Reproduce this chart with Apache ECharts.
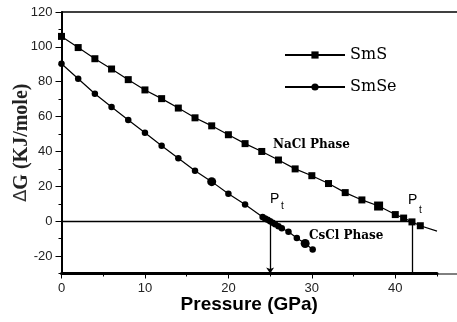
<!DOCTYPE html>
<html>
<head>
<meta charset="utf-8">
<script src="https://cdn.jsdelivr.net/npm/echarts@6/dist/echarts.min.js"></script>
<style>
  html, body { margin: 0; padding: 0; background: #fff; }
  #chart { width: 457px; height: 322px; }
</style>
</head>
<body>
<div id="chart"></div>
<script>
// SmS (squares), pressure in GPa and ΔG in KJ/mole
const smsPressure = [0, 2, 4, 6, 8, 10, 12, 14, 16, 18, 20, 22, 24, 26, 28, 30, 32, 34, 36, 38, 40, 41, 42, 43];
const smsEnergy = [106, 99.6, 93.2, 87.3, 81.2, 75.3, 70.3, 64.9, 59.3, 54.7, 49.6, 44.5, 40.0, 35.1, 30.0, 26.1, 21.6, 16.4, 12.2, 8.7, 3.8, 1.8, -0.4, -2.6];
const smsTail = [45, -5.7]; // line continues past the last marker
const smsBig = [19];

// SmSe (circles)
const smsePressure = [0, 2, 4, 6, 8, 10, 12, 14, 16, 18, 20, 22, 24.1, 24.4, 24.7, 25.0, 25.3, 25.6, 26.0, 26.4, 27.2, 28.2, 29.2, 30.1];
const smseEnergy = [90.3, 81.7, 73.1, 65.5, 58.1, 50.7, 43.3, 36.1, 29.0, 22.7, 15.7, 9.6, 2.4, 1.6, 0.8, 0.0, -0.9, -1.8, -2.9, -4.0, -6.1, -9.6, -12.8, -16.2];
const smseBig = [9, 22];

// transition pressures
const ptSmSe = 25;
const ptSmS = 42;

const yTicks = [-20, 0, 20, 40, 60, 80, 100, 120];
const yMinorTicks = [-30, -10, 10, 30, 50, 70, 90, 110];
const xTicks = [0, 10, 20, 30, 40];
const xMinorTicks = [5, 15, 25, 35, 45];

const toPoints = (xs, ys, big) =>
  xs.map((x, i) => big.includes(i) ? { value: [x, ys[i]], symbolSize: 9 } : [x, ys[i]]);

const chart = echarts.init(document.getElementById('chart'));

const tickFont = { fontFamily: 'Liberation Sans', fontSize: 13, color: '#222' };

chart.setOption({
  animation: false,
  grid: { left: 61.5, right: 20, top: 12, bottom: 48.5, outerBoundsMode: 'none', containLabel: false },
  legend: {
    orient: 'vertical',
    left: 279,
    top: 42,
    itemWidth: 60,
    itemHeight: 9,
    itemGap: 16,
    textStyle: { fontFamily: 'DejaVu Serif', fontSize: 16, color: '#000' },
    data: ['SmS', 'SmSe'],
  },
  xAxis: [
    {
      type: 'value', min: 0, max: 45,
      name: 'Pressure (GPa)', nameLocation: 'middle', nameGap: 22, nameMoveOverlap: false,
      nameTextStyle: { fontFamily: 'Liberation Sans', fontWeight: 'bold', fontSize: 19, color: '#000' },
      axisLine: { show: true, onZero: false, lineStyle: { color: '#000', width: 3 } },
      axisTick: { show: true, customValues: xTicks, length: 5, lineStyle: { color: '#000', width: 1 } },
      axisLabel: { customValues: xTicks, margin: 8, ...tickFont },
      splitLine: { show: false },
    },
    {
      type: 'value', min: 0, max: 45, position: 'bottom',
      axisLine: { show: false, onZero: false },
      axisTick: { show: true, customValues: xMinorTicks, length: 3, lineStyle: { color: '#000', width: 1 } },
      axisLabel: { show: false },
      splitLine: { show: false },
    },
  ],
  yAxis: [
    {
      type: 'value', min: -30, max: 120,
      name: '{d|Δ}G (KJ/mole)', nameLocation: 'middle', nameGap: 30, nameMoveOverlap: false,
      nameTextStyle: {
        fontFamily: 'Liberation Serif', fontWeight: 'bold', fontSize: 20, color: '#222',
        rich: { d: { fontFamily: 'DejaVu Sans', fontWeight: 'normal', fontSize: 18, color: '#333' } },
      },
      axisLine: { show: true, onZero: false, lineStyle: { color: '#000', width: 2 } },
      axisTick: { show: true, customValues: yTicks, length: 6, lineStyle: { color: '#000', width: 1 } },
      axisLabel: { customValues: yTicks, margin: 9, ...tickFont },
      splitLine: { show: false },
    },
    {
      type: 'value', min: -30, max: 120, position: 'left',
      axisLine: { show: false, onZero: false },
      axisTick: { show: true, customValues: yMinorTicks, length: 3, lineStyle: { color: '#000', width: 1 } },
      axisLabel: { show: false },
      splitLine: { show: false },
    },
  ],
  series: [
    {
      name: 'SmS',
      type: 'line',
      symbol: 'rect',
      symbolSize: 7,
      lineStyle: { color: '#000', width: 1.2 },
      itemStyle: { color: '#000' },
      data: [...toPoints(smsPressure, smsEnergy, smsBig), { value: smsTail, symbol: 'none' }],
    },
    {
      name: 'SmSe',
      type: 'line',
      symbol: 'circle',
      symbolSize: 6.5,
      lineStyle: { color: '#000', width: 1.2 },
      itemStyle: { color: '#000' },
      data: toPoints(smsePressure, smseEnergy, smseBig),
      markLine: {
        silent: true,
        symbol: ['none', 'none'],
        label: { show: false },
        lineStyle: { color: '#000', width: 1.3, type: 'solid' },
        emphasis: { disabled: true },
        data: [
          [{ coord: [0, 0] }, { coord: [ptSmS, 0] }],
          [{ coord: [ptSmSe, 0] }, { coord: [ptSmSe, -30], symbol: 'arrow', symbolSize: 6 }],
          [{ coord: [ptSmS, 0] }, { coord: [ptSmS, -30] }],
        ],
      },
    },
  ],
  graphic: [
    // frame lines beyond the plot area
    { type: 'line', shape: { x1: 61.5, y1: 12, x2: 457, y2: 12 }, style: { stroke: '#000', lineWidth: 1.5 } },
    { type: 'line', shape: { x1: 437, y1: 274, x2: 457, y2: 274 }, style: { stroke: '#000', lineWidth: 1 } },
    // annotations
    { type: 'text', left: 270, top: 192, style: { text: 'P', fontFamily: 'Liberation Sans', fontSize: 14, fill: '#000' } },
    { type: 'text', left: 281, top: 201, style: { text: 't', fontFamily: 'Liberation Sans', fontSize: 10, fill: '#000' } },
    { type: 'text', left: 408, top: 193.5, style: { text: 'P', fontFamily: 'Liberation Sans', fontSize: 14, fill: '#000' } },
    { type: 'text', left: 419, top: 205, style: { text: 't', fontFamily: 'Liberation Sans', fontSize: 10, fill: '#000' } },
    { type: 'text', x: 273, y: 144.5, style: { text: 'NaCl Phase', fontFamily: 'DejaVu Serif', fontWeight: 'bold', fontSize: 12, fill: '#000', verticalAlign: 'middle' } },
    { type: 'text', x: 309, y: 236, style: { text: 'CsCl Phase', fontFamily: 'DejaVu Serif', fontWeight: 'bold', fontSize: 12, fill: '#000', verticalAlign: 'middle' } },
  ],
});

window.addEventListener('resize', () => chart.resize());
</script>
</body>
</html>
